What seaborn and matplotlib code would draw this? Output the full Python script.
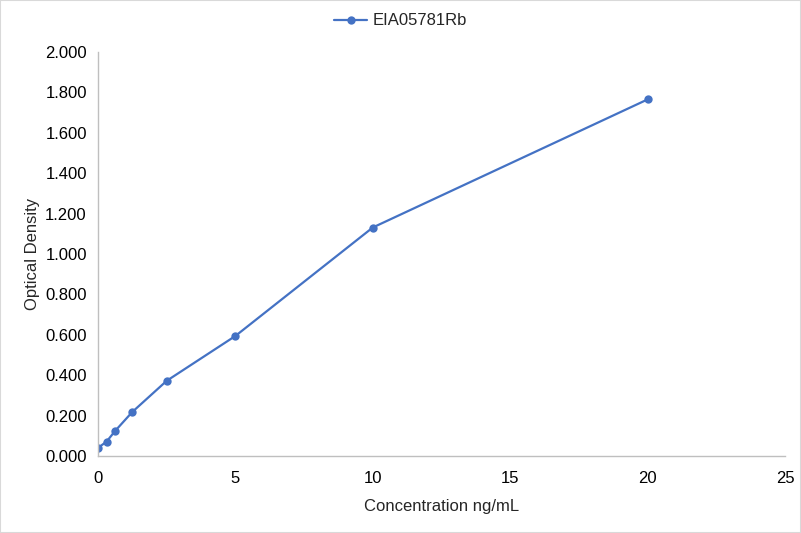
import matplotlib
matplotlib.use("Agg")
import matplotlib.pyplot as plt
import pandas as pd
import seaborn as sns

concentration = [0, 0.3125, 0.625, 1.25, 2.5, 5, 10, 20]
optical_density = [0.040, 0.071, 0.124, 0.218, 0.372, 0.594, 1.131, 1.765]
series_name = "EIA05781Rb"

df = pd.DataFrame({"Concentration": concentration, "OD": optical_density})

sns.set_style("white")
plt.rcParams["font.family"] = ["Liberation Sans", "DejaVu Sans"]

fig = plt.figure(figsize=(8.01, 5.33), dpi=100)
ax = fig.add_axes([0.1223, 0.1445, 0.8577, 0.758])

sns.lineplot(data=df, x="Concentration", y="OD", ax=ax, color="#4472C4",
             marker="o", markersize=6, markeredgewidth=0, linewidth=1.6,
             label=series_name)

ax.set_xlim(0, 25)
ax.set_ylim(0, 2.0)
ax.set_xticks([0, 5, 10, 15, 20, 25])
ax.set_yticks([i * 0.2 for i in range(11)])
ax.set_yticklabels(["%.3f" % (i * 0.2) for i in range(11)])
ax.tick_params(axis="both", length=0, labelsize=12, labelcolor="black")
ax.tick_params(axis="y", pad=8)
ax.tick_params(axis="x", pad=11)

for side in ["top", "right"]:
    ax.spines[side].set_visible(False)
for side in ["left", "bottom"]:
    ax.spines[side].set_color("#BFBFBF")
    ax.spines[side].set_linewidth(1)

ax.set_xlabel("Concentration ng/mL", fontsize=12, labelpad=9)
ax.set_ylabel("Optical Density", fontsize=12, labelpad=4)

ax.legend(loc="center", bbox_to_anchor=(0.5, 1 - 21 / 533),
          bbox_transform=fig.transFigure, frameon=False,
          fontsize=12, handlelength=2.0, handletextpad=0.3)

fig.patches.append(plt.Rectangle((0, 0), 1, 1, transform=fig.transFigure,
                                 fill=False, edgecolor="#D9D9D9", linewidth=1.5))

fig.savefig("out.png", dpi=100)
